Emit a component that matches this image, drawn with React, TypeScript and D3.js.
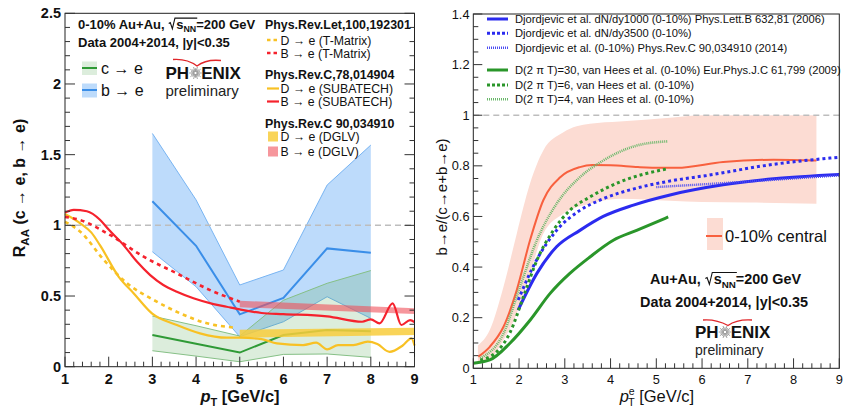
import React, { useLayoutEffect, useRef, useState } from "react";
import * as d3 from "d3";

const FONT = "'Liberation Sans', Arial, Helvetica, sans-serif";

// ---------------- Left panel: R_AA ----------------
const dataPt = [3, 4, 5, 6, 7, 8];
const bCentral = [1.17, 0.855, 0.37, 0.487, 0.837, 0.806];
const bUpper = [1.65, 1.18, 0.578, 0.684, 1.285, 1.568];
const bLower = [0.813, 0.566, 0.212, 0.318, 0.495, 0.342];
const cCentral = [0.224, 0.163, 0.1, 0.224, 0.26, 0.25];
const cUpper = [0.358, 0.29, 0.217, 0.47, 0.59, 0.68];
const cLower = [0.113, 0.075, 0.035, 0.087, 0.09, 0.066];

const tmatPtB = [1.0, 1.35, 2.04, 2.8, 3.56, 4.32, 5.0];
const tmatB = [1.06, 1.037, 0.93, 0.778, 0.66, 0.542, 0.46];
const tmatPtD = [1.0, 1.35, 1.89, 2.42, 3.03, 3.64, 4.25, 4.9];
const tmatD = [1.025, 0.955, 0.755, 0.59, 0.472, 0.377, 0.307, 0.276];

const subaPtB = [1.0, 1.2, 1.5, 1.8, 2.0, 2.34, 2.65, 2.95, 3.25, 3.56, 3.94, 4.4, 4.7, 5.0, 5.5, 6.0, 7.0, 7.8, 8.0, 8.2, 8.5, 8.7, 8.9, 9.0];
const subaB = [1.09, 1.11, 1.1, 1.04, 0.97, 0.86, 0.742, 0.648, 0.578, 0.53, 0.484, 0.443, 0.424, 0.405, 0.38, 0.372, 0.356, 0.318, 0.335, 0.307, 0.448, 0.295, 0.33, 0.315];
const subaPtD = [1.0, 1.35, 1.6, 1.8, 2.23, 2.57, 2.99, 3.56, 4.09, 4.7, 5.0, 5.5, 5.85, 6.45, 6.75, 7.0, 7.25, 7.6, 7.93, 8.15, 8.43, 8.73, 8.93, 9.0];
const subaD = [1.08, 1.014, 0.95, 0.86, 0.636, 0.52, 0.377, 0.295, 0.236, 0.205, 0.205, 0.195, 0.165, 0.153, 0.17, 0.123, 0.153, 0.153, 0.177, 0.16, 0.105, 0.15, 0.2, 0.15];

const dglvPt = [5, 9];
const dglvBLo = [0.42, 0.373];
const dglvBHi = [0.467, 0.413];
const dglvDLo = [0.205, 0.225];
const dglvDHi = [0.262, 0.275];

const leftYTicks = [0, 0.5, 1, 1.5, 2, 2.5];
const leftYLabels = ["0", "0.5", "1", "1.5", "2", "2.5"];
const xTicks = [1, 2, 3, 4, 5, 6, 7, 8, 9];

// ---------------- Right panel: b/(c+b) ----------------
const bandPt = [1.1, 1.36, 1.66, 1.95, 2.24, 2.53, 2.97, 3.55, 4.2, 5.3, 6.0, 7.0, 8.5];
const bandHi = [0.09, 0.151, 0.322, 0.532, 0.73, 0.861, 0.933, 0.966, 0.975, 0.99, 1.0, 1.0, 1.0];
const bandLo = [0.02, 0.035, 0.112, 0.217, 0.375, 0.532, 0.611, 0.65, 0.67, 0.662, 0.657, 0.655, 0.65];

const ratioPt = [1.11, 1.36, 1.66, 1.95, 2.24, 2.53, 2.9, 3.33, 3.6, 4.0, 4.6, 5.1, 5.45, 6.46, 7.56, 8.5];
const ratioVal = [0.046, 0.085, 0.164, 0.309, 0.506, 0.664, 0.755, 0.795, 0.803, 0.802, 0.795, 0.792, 0.792, 0.815, 0.824, 0.821];

const dj1000Pt = [1.98, 2.39, 2.82, 3.33, 3.84, 4.5, 5.3, 6.46, 7.56, 9.0];
const dj1000 = [0.23, 0.375, 0.48, 0.545, 0.6, 0.645, 0.685, 0.725, 0.749, 0.766];
const dj3500Pt = [1.98, 2.39, 2.82, 3.33, 3.84, 4.57, 5.3, 6.1, 7.56, 9.0];
const dj3500 = [0.27, 0.43, 0.545, 0.624, 0.67, 0.712, 0.74, 0.762, 0.806, 0.834];
const dj2014Pt = [5.0, 6.83, 8.65, 9.0];
const dj2014 = [0.716, 0.736, 0.758, 0.762];

const vh30Pt = [1.0, 1.36, 1.8, 2.24, 2.68, 3.11, 3.55, 4.06, 4.57, 5.26];
const vh30 = [0.02, 0.033, 0.099, 0.19, 0.296, 0.375, 0.44, 0.506, 0.545, 0.598];
const vh6Pt = [1.15, 1.51, 1.8, 2.09, 2.39, 2.75, 3.11, 3.55, 4.2, 5.26];
const vh6 = [0.033, 0.065, 0.14, 0.28, 0.427, 0.545, 0.624, 0.677, 0.736, 0.789];
const vh4Pt = [1.15, 1.66, 2.02, 2.39, 2.82, 3.33, 3.84, 4.57, 5.26];
const vh4 = [0.04, 0.138, 0.322, 0.506, 0.65, 0.755, 0.821, 0.88, 0.897];

const rightYTicks = [0, 0.2, 0.4, 0.6, 0.8, 1, 1.2, 1.4];
const rightYLabels = ["0", "0.2", "0.4", "0.6", "0.8", "1", "1.2", "1.4"];

// ---------------- scales ----------------
const xL = d3.scaleLinear().domain([1, 9]).range([65, 414.5]);
const yL = d3.scaleLinear().domain([0, 2.5]).range([366.7, 13.3]);
const xR = d3.scaleLinear().domain([1, 9]).range([473.3, 839.3]);
const yR = d3.scaleLinear().domain([0, 1.4]).range([368.3, 14]);

type P = [number, number];
const zip = (a: number[], b: number[]): P[] => a.map((v, i) => [v, b[i]]);
const zip3 = (a: number[], lo: number[], hi: number[]) => a.map((v, i) => ({ x: v, lo: lo[i], hi: hi[i] }));

const lineL = d3.line<P>().x((d) => xL(d[0])).y((d) => yL(d[1]));
const lineLs = d3.line<P>().x((d) => xL(d[0])).y((d) => yL(d[1])).curve(d3.curveMonotoneX);
const areaL = d3.area<{ x: number; lo: number; hi: number }>().x((d) => xL(d.x)).y0((d) => yL(d.lo)).y1((d) => yL(d.hi));
const lineR = d3.line<P>().x((d) => xR(d[0])).y((d) => yR(d[1])).curve(d3.curveMonotoneX);
const areaR = d3
  .area<{ x: number; lo: number; hi: number }>()
  .x((d) => xR(d.x))
  .y0((d) => yR(d.lo))
  .y1((d) => yR(d.hi))
  .curve(d3.curveMonotoneX);

const COL = {
  blue: "#3a8ee8",
  blueBand: "#5aa5f5",
  green: "#2f9a36",
  greenBand: "#3c9a3c",
  red: "#f5222d",
  yellow: "#f8c124",
  redBand: "#f0505a",
  yellowBand: "#f8cc3c",
  pink: "#fcdcd3",
  orange: "#f8603e",
  dBlue: "#2b2bef",
  fBlue: "#4c4cf2",
  dGreen: "#2a962a",
  lGreen: "#6ab86a",
};

function Star({ cx, cy, r }: { cx: number; cy: number; r: number }) {
  const rays = d3.range(20).map((i) => (i * Math.PI * 2) / 20);
  return (
    <g>
      {rays.map((a, i) => (
        <line
          key={i}
          x1={cx + Math.cos(a) * r * 0.2}
          y1={cy + Math.sin(a) * r * 0.2}
          x2={cx + Math.cos(a) * r * (i % 2 ? 0.75 : 1)}
          y2={cy + Math.sin(a) * r * (i % 2 ? 0.75 : 1)}
          stroke="#8a8a8a"
          strokeWidth={0.8}
        />
      ))}
    </g>
  );
}

function Logo({ x, base, prelimSize, prelimBase, starX, gap, arc }: any) {
  return (
    <g fontFamily={FONT}>
      <path d={arc} fill="none" stroke="#e0262a" strokeWidth={1.3} />
      <text x={x} y={base} fontSize={17} fontWeight="bold" fill="#111">
        PH<tspan dx={gap}>ENIX</tspan>
      </text>
      <Star cx={starX} cy={base - 6} r={6.3} />
      <text x={x} y={prelimBase} fontSize={prelimSize} fill="#222">preliminary</text>
    </g>
  );
}

function SqrtLine({ x, y, size, prefix, suffix }: { x: number; y: number; size: number; prefix: string; suffix: string }) {
  const ref = useRef<SVGTextElement>(null);
  const [pos, setPos] = useState<[number, number] | null>(null);
  useLayoutEffect(() => {
    const t = ref.current;
    if (!t) return;
    try {
      const n = prefix.length;
      const sx = t.getStartPositionOfChar(n).x;
      const ex = t.getEndPositionOfChar(n + 2).x;
      setPos([sx, ex]);
    } catch (e) {}
  }, [prefix]);
  const top = y - size * 0.8;
  return (
    <g>
      <text ref={ref} x={x} y={y} fontSize={size} fontWeight="bold" fontFamily={FONT} fill="#111">
        {prefix}
        <tspan dx={size * 0.62}>s</tspan>
        <tspan dy={size * 0.25} fontSize={size * 0.68}>NN</tspan>
        <tspan dy={-size * 0.25}>{suffix}</tspan>
      </text>
      {pos && (
        <path
          d={`M${pos[0] - size * 0.58},${y - size * 0.38} L${pos[0] - size * 0.46},${y - size * 0.45} L${pos[0] - size * 0.3},${y + size * 0.02} L${pos[0] - size * 0.1},${top} L${pos[1] + 1},${top}`}
          fill="none"
          stroke="#111"
          strokeWidth={1.1}
        />
      )}
    </g>
  );
}

export default function App() {
  const lX0 = xL(1), lX1 = xL(9), lY0 = yL(0), lY1 = yL(2.5);
  const rX0 = xR(1), rX1 = xR(9), rY0 = yR(0), rY1 = yR(1.4);

  const lMinorY = d3.range(0, 2.5001, 0.1).filter((v) => Math.abs(v / 0.5 - Math.round(v / 0.5)) > 1e-6);
  const minorX = d3.range(1, 9.0001, 0.2).filter((v) => Math.abs(v - Math.round(v)) > 1e-6);
  const rMinorY = d3.range(0, 1.4001, 0.05).filter((v) => Math.abs(v / 0.2 - Math.round(v / 0.2)) > 1e-6);

  const tick = "#333";

  return (
    <svg width={845} height={409} style={{ position: "absolute", left: 0, top: 0, background: "#fff" }} fontFamily={FONT}>
      <rect width={845} height={409} fill="#fff" />
      {/* ================= LEFT PANEL ================= */}
      <g>
        <path d={areaL(zip3(dataPt, bLower, bUpper)) || ""} fill={COL.blueBand} fillOpacity={0.4} />
        <path d={lineL(zip(dataPt, bUpper)) || ""} fill="none" stroke="#78b4f2" strokeWidth={1} />
        <path d={lineL(zip(dataPt, bLower)) || ""} fill="none" stroke="#78b4f2" strokeWidth={1} />
        <path d={areaL(zip3(dataPt, cLower, cUpper)) || ""} fill={COL.greenBand} fillOpacity={0.18} />
        <path d={lineL(zip(dataPt, cUpper)) || ""} fill="none" stroke="#86c086" strokeWidth={1} />
        <path d={lineL(zip(dataPt, cLower)) || ""} fill="none" stroke="#86c086" strokeWidth={1} />
        <line x1={lX0} x2={lX1} y1={yL(1)} y2={yL(1)} stroke="#bdbdbd" strokeWidth={1.5} strokeDasharray="6,4" />
        <path d={lineL(zip(dataPt, bCentral)) || ""} fill="none" stroke={COL.blue} strokeWidth={2} />
        <path d={lineL(zip(dataPt, cCentral)) || ""} fill="none" stroke={COL.green} strokeWidth={2} />
        <path d={areaL(zip3(dglvPt, dglvBLo, dglvBHi)) || ""} fill={COL.redBand} fillOpacity={0.6} />
        <path d={areaL(zip3(dglvPt, dglvDLo, dglvDHi)) || ""} fill={COL.yellowBand} fillOpacity={0.85} />
        <path d={lineLs(zip(subaPtB, subaB)) || ""} fill="none" stroke={COL.red} strokeWidth={2.2} />
        <path d={lineLs(zip(subaPtD, subaD)) || ""} fill="none" stroke={COL.yellow} strokeWidth={2.2} />
        <path d={lineLs(zip(tmatPtB, tmatB)) || ""} fill="none" stroke={COL.red} strokeWidth={2.6} strokeDasharray="4,4" />
        <path d={lineLs(zip(tmatPtD, tmatD)) || ""} fill="none" stroke={COL.yellow} strokeWidth={2.6} strokeDasharray="4,4" />

        <rect x={lX0} y={lY1} width={lX1 - lX0} height={lY0 - lY1} fill="none" stroke="#222" strokeWidth={1} />
        {leftYTicks.map((v) => (
          <g key={"ly" + v}>
            <line x1={lX0} x2={lX0 + 10} y1={yL(v)} y2={yL(v)} stroke={tick} />
            <line x1={lX1} x2={lX1 - 10} y1={yL(v)} y2={yL(v)} stroke={tick} />
          </g>
        ))}
        {lMinorY.map((v) => (
          <g key={"lmy" + v}>
            <line x1={lX0} x2={lX0 + 5} y1={yL(v)} y2={yL(v)} stroke={tick} />
            <line x1={lX1} x2={lX1 - 5} y1={yL(v)} y2={yL(v)} stroke={tick} />
          </g>
        ))}
        {xTicks.map((v) => (
          <line key={"lx" + v} x1={xL(v)} x2={xL(v)} y1={lY0} y2={lY0 - 10} stroke={tick} />
        ))}
        {minorX.map((v) => (
          <line key={"lmx" + v} x1={xL(v)} x2={xL(v)} y1={lY0} y2={lY0 - 5} stroke={tick} />
        ))}
        {leftYTicks.map((v, i) => (
          <text key={"lyl" + v} x={61} y={yL(v) + 5} textAnchor="end" fontSize={14.5} fontWeight="bold" fill="#111">
            {leftYLabels[i]}
          </text>
        ))}
        {xTicks.map((v) => (
          <text key={"lxl" + v} x={xL(v)} y={383.5} textAnchor="middle" fontSize={14.5} fontWeight="bold" fill="#111">
            {v}
          </text>
        ))}
        <text transform="translate(25,188) rotate(-90)" textAnchor="middle" fontSize={16} fontWeight="bold" fill="#111">
          R<tspan dy={4} fontSize={11.5}>AA</tspan>
          <tspan dy={-4}> (c → e, b → e)</tspan>
        </text>
        <text x={240} y={401.5} textAnchor="middle" fontSize={16.5} fontWeight="bold" fill="#111">
          <tspan fontStyle="italic">p</tspan>
          <tspan dy={4} fontSize={11}>T</tspan>
          <tspan dy={-4}> [GeV/c]</tspan>
        </text>

        <SqrtLine x={78} y={28.5} size={13} prefix="0-10% Au+Au, " suffix="=200 GeV" />
        <text x={78} y={47} fontSize={13} fontWeight="bold" fill="#111">Data 2004+2014, |y|&lt;0.35</text>

        <rect x={82} y={61.5} width={15} height={13.5} fill={COL.greenBand} fillOpacity={0.18} />
        <line x1={82} x2={97} y1={68} y2={68} stroke={COL.green} strokeWidth={2} />
        <text x={101} y={73.5} fontSize={16} fill="#111">c → e</text>
        <rect x={82} y={83.5} width={15} height={14} fill={COL.blueBand} fillOpacity={0.4} />
        <line x1={82} x2={97} y1={90} y2={90} stroke={COL.blue} strokeWidth={2} />
        <text x={101} y={95.5} fontSize={16} fill="#111">b → e</text>

        <Logo x={165.5} base={79} prelimSize={15} prelimBase={96.3} starX={195.5} gap={12} arc="M173,59.5 Q187,58.5 197,66 Q206,59 221,60.5" />

        <g fontSize={12.3} fill="#111">
          <text x={265} y={28.5} fontWeight="bold" fontSize={12.4}>Phys.Rev.Let,100,192301</text>
          <line x1={267} x2={279} y1={40} y2={40} stroke={COL.yellow} strokeWidth={2.5} strokeDasharray="3.5,3" />
          <text x={280.5} y={44.5}>D → e (T-Matrix)</text>
          <line x1={267} x2={279} y1={53} y2={53} stroke={COL.red} strokeWidth={2.5} strokeDasharray="3.5,3" />
          <text x={280.5} y={57.5}>B → e (T-Matrix)</text>
          <text x={265} y={78.5} fontWeight="bold" fontSize={12.4}>Phys.Rev.C,78,014904</text>
          <line x1={267} x2={279} y1={88.5} y2={88.5} stroke={COL.yellow} strokeWidth={2.2} />
          <text x={280.5} y={93}>D → e (SUBATECH)</text>
          <line x1={267} x2={279} y1={101.5} y2={101.5} stroke={COL.red} strokeWidth={2.2} />
          <text x={280.5} y={106}>B → e (SUBATECH)</text>
          <text x={265} y={127.5} fontWeight="bold" fontSize={12.4}>Phys.Rev.C 90,034910</text>
          <rect x={268} y={131.5} width={10} height={10} fill={COL.yellowBand} fillOpacity={0.85} />
          <text x={280.5} y={141}>D → e (DGLV)</text>
          <rect x={268} y={146.5} width={10} height={10} fill={COL.redBand} fillOpacity={0.6} />
          <text x={280.5} y={156}>B → e (DGLV)</text>
        </g>
      </g>

      {/* ================= RIGHT PANEL ================= */}
      <g>
        <path d={areaR(zip3(bandPt, bandLo, bandHi)) || ""} fill={COL.pink} />
        <line x1={rX0} x2={rX1} y1={yR(1)} y2={yR(1)} stroke="#bdbdbd" strokeWidth={1.5} strokeDasharray="6,4" />
        <path d={lineR(zip(ratioPt, ratioVal)) || ""} fill="none" stroke={COL.orange} strokeWidth={2} />
        <path d={lineR(zip(dj1000Pt, dj1000)) || ""} fill="none" stroke={COL.dBlue} strokeWidth={3} />
        <path d={lineR(zip(dj3500Pt, dj3500)) || ""} fill="none" stroke={COL.dBlue} strokeWidth={3} strokeDasharray="3,3" />
        <path d={lineR(zip(dj2014Pt, dj2014)) || ""} fill="none" stroke={COL.fBlue} strokeWidth={2.4} strokeDasharray="1,1" />
        <path d={lineR(zip(vh30Pt, vh30)) || ""} fill="none" stroke={COL.dGreen} strokeWidth={3} />
        <path d={lineR(zip(vh6Pt, vh6)) || ""} fill="none" stroke={COL.dGreen} strokeWidth={3} strokeDasharray="3,3" />
        <path d={lineR(zip(vh4Pt, vh4)) || ""} fill="none" stroke={COL.lGreen} strokeWidth={2.6} strokeDasharray="1,1" />

        <rect x={rX0} y={rY1} width={rX1 - rX0} height={rY0 - rY1} fill="none" stroke="#222" strokeWidth={1} />
        {rightYTicks.map((v) => (
          <line key={"ry" + v} x1={rX0} x2={rX0 + 9} y1={yR(v)} y2={yR(v)} stroke={tick} />
        ))}
        {rMinorY.map((v) => (
          <line key={"rmy" + v} x1={rX0} x2={rX0 + 5} y1={yR(v)} y2={yR(v)} stroke={tick} />
        ))}
        {xTicks.map((v) => (
          <line key={"rx" + v} x1={xR(v)} x2={xR(v)} y1={rY0} y2={rY0 - 10} stroke={tick} />
        ))}
        {minorX.map((v) => (
          <line key={"rmx" + v} x1={xR(v)} x2={xR(v)} y1={rY0} y2={rY0 - 5} stroke={tick} />
        ))}
        {rightYTicks.map((v, i) => (
          <text key={"ryl" + v} x={469.5} y={yR(v) + 4.5} textAnchor="end" fontSize={12.8} fill="#111">
            {rightYLabels[i]}
          </text>
        ))}
        {xTicks.map((v) => (
          <text key={"rxl" + v} x={xR(v)} y={383.5} textAnchor="middle" fontSize={12.8} fill="#111">
            {v}
          </text>
        ))}
        <text transform="translate(447,197) rotate(-90)" textAnchor="middle" fontSize={15} fill="#111">
          b→e/(c→e+b→e)
        </text>
        <text x={657} y={402} textAnchor="middle" fontSize={16.5} fill="#111">
          <tspan fontStyle="italic">p</tspan>
          <tspan dy={4} dx={-1} fontSize={11}>T</tspan>
          <tspan dy={-11} dx={-6} fontSize={10.5}>e</tspan>
          <tspan dy={7}> [GeV/c]</tspan>
        </text>

        <g fontSize={11.2} fill="#111">
          <line x1={487} x2={508} y1={19} y2={19} stroke={COL.dBlue} strokeWidth={3} />
          <text x={515} y={23}>Djordjevic et al. dN/dy1000 (0-10%)  Phys.Lett.B 632,81 (2006)</text>
          <line x1={487} x2={508} y1={33.3} y2={33.3} stroke={COL.dBlue} strokeWidth={3} strokeDasharray="3,2" />
          <text x={515} y={37.3}>Djordjevic et al. dN/dy3500 (0-10%)</text>
          <line x1={487} x2={508} y1={47.7} y2={47.7} stroke={COL.fBlue} strokeWidth={2.4} strokeDasharray="1,1" />
          <text x={515} y={51.7}>Djordjevic et al. (0-10%) Phys.Rev.C 90,034910 (2014)</text>
          <line x1={487} x2={508} y1={70} y2={70} stroke={COL.dGreen} strokeWidth={3} />
          <text x={515} y={74}>D(2 π T)=30, van Hees et al. (0-10%) Eur.Phys.J.C 61,799 (2009)</text>
          <line x1={487} x2={508} y1={85} y2={85} stroke={COL.dGreen} strokeWidth={3} strokeDasharray="3,2" />
          <text x={515} y={89}>D(2 π T)=6, van Hees et al. (0-10%)</text>
          <line x1={487} x2={508} y1={99.3} y2={99.3} stroke={COL.lGreen} strokeWidth={2.4} strokeDasharray="1,1" />
          <text x={515} y={103.3}>D(2 π T)=4, van Hees et al. (0-10%)</text>
        </g>

        <rect x={707} y={218} width={16} height={32} fill={COL.pink} />
        <line x1={706} x2={722} y1={236} y2={236} stroke={COL.orange} strokeWidth={2} />
        <text x={725} y={242} fontSize={16.5} fill="#111">0-10% central</text>

        <SqrtLine x={650} y={284} size={14.4} prefix="Au+Au, " suffix="=200 GeV" />
        <text x={640} y={307} fontSize={14.4} fontWeight="bold" fill="#111">Data 2004+2014, |y|&lt;0.35</text>

        <Logo x={695} base={338} prelimSize={14} prelimBase={354.5} starX={725} gap={12} arc="M703,320 Q716,319 728,325.5 Q737,319 752,320" />
      </g>
    </svg>
  );
}
